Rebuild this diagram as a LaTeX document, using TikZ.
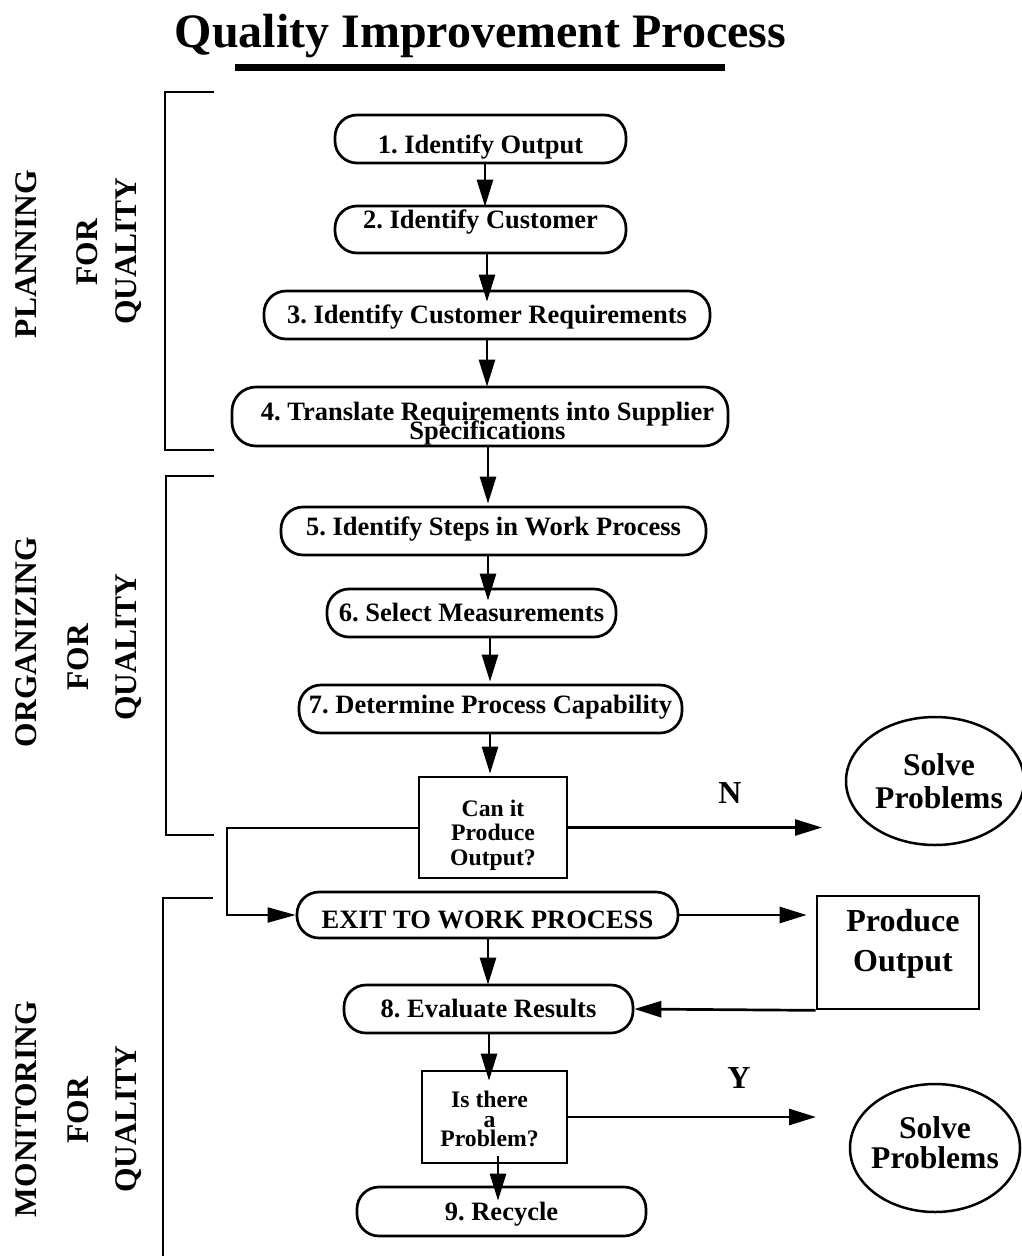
\documentclass[tikz,border=0pt]{standalone}
\usepackage{fontspec}
\setmainfont{Liberation Serif}
\usetikzlibrary{arrows.meta,shapes.geometric}
% let stacked caption lines sit closer than their glyphs allow
\newcommand\tightlines{\lineskiplimit=-50pt\relax}
\frenchspacing

\begin{document}
\begin{tikzpicture}[x=1pt,y=-1pt,
  stepbox/.style={draw, line width=2.7pt, rounded corners=22pt, inner sep=0pt,
    font=\bfseries\fontsize{26.5}{26.5}\selectfont, text height=17.5pt, text depth=0pt},
  blankstep/.style={draw, line width=2.7pt, rounded corners=24pt, inner sep=0pt},
  askbox/.style={draw, line width=2.7pt, inner sep=0pt},
  oval/.style={draw, ellipse, line width=2.5pt, inner sep=0pt},
  side/.style={rotate=90, inner sep=0pt, font=\bfseries\fontsize{31.5}{31.5}\selectfont,
    text height=21pt, text depth=0pt},
  yn/.style={inner sep=0pt, font=\bfseries\fontsize{32}{32}\selectfont, text height=21.5pt, text depth=0pt},
  arr/.style={line width=2.7pt, -{Triangle[length=27pt,width=16pt]}},
  looparr/.style={line width=2pt, -{Triangle[length=28pt,width=15pt]}},
  bracket/.style={line width=1.3pt},
  every label/.style={inner sep=0pt, align=center}
]
\useasboundingbox (0,0) rectangle (1021,1256);

% title
\node[anchor=base, inner sep=0pt, font=\bfseries\fontsize{48}{48}\selectfont] (title) at (480.5,47) {Quality Improvement Process};
\draw[line width=7pt] (235,67.5) -- (725,67.5);

% phase brackets
\draw[bracket] (214,92) -- (165,92) -- (165,450) -- (214,450);
\draw[bracket] (214,476) -- (166,476) -- (166,835) -- (214,835);
\draw[bracket] (213,898) -- (163,898) -- (163,1262);

% phase captions
\node[side] (plan) at (26,254) {PLANNING};
\node[side] (planfor) at (87,252) {FOR};
\node[side] (planq) at (126,251) {QUALITY};
\node[side] (org) at (26,642) {ORGANIZING};
\node[side] (orgfor) at (78,657) {FOR};
\node[side] (orgq) at (126,647) {QUALITY};
\node[side] (mon) at (26,1109) {MONITORING};
\node[side] (monfor) at (78,1110) {FOR};
\node[side] (monq) at (126,1119) {QUALITY};

% process steps
\node[stepbox, minimum width=291pt, minimum height=48pt] (n1) at (480.5,139) {\raisebox{-6pt}{1. Identify Output}};
\node[stepbox, minimum width=291pt, minimum height=47pt] (n2) at (480.5,229.5) {\raisebox{9.5pt}{2. Identify Customer}};
\node[stepbox, minimum width=446pt, minimum height=48pt] (n3) at (487,315) {3. Identify Customer Requirements};
\node[blankstep, minimum width=496pt, minimum height=59pt,
  label={[xshift=7.5pt, yshift=-7.5pt, font=\bfseries\fontsize{26.5}{19}\selectfont\tightlines]center:4. Translate Requirements into Supplier\\Specifications}]
  (n4) at (480,416.5) {};
\node[stepbox, minimum width=425pt, minimum height=48pt] (n5) at (493.5,531) {\raisebox{4pt}{5. Identify Steps in Work Process}};
\node[stepbox, minimum width=289pt, minimum height=48pt] (n6) at (471.5,613) {6. Select Measurements};
\node[stepbox, minimum width=383pt, minimum height=48pt] (n7) at (490.5,709) {\raisebox{4pt}{7. Determine Process Capability}};
\node[askbox, minimum width=148pt, minimum height=101pt,
  label={[yshift=-7.5pt, font=\bfseries\fontsize{23.7}{24.5}\selectfont]center:Can it\\Produce\\Output?}]
  (d1) at (493,827.5) {};
\node[oval, minimum width=178pt, minimum height=128pt,
  label={[xshift=4pt, font=\bfseries\fontsize{31.6}{33}\selectfont]center:Solve\\Problems}]
  (s1) at (935,781) {};
\node[stepbox, minimum width=381pt, minimum height=46pt] (exit) at (487.5,915) {\raisebox{-5pt}{EXIT TO WORK PROCESS}};
\node[askbox, minimum width=162pt, minimum height=113pt,
  label={[xshift=5pt, yshift=9pt, font=\bfseries\fontsize{32}{40}\selectfont]center:Produce\\Output}]
  (prod) at (898,952.5) {};
\node[stepbox, minimum width=289pt, minimum height=48pt] (n8) at (488.5,1009) {8. Evaluate Results};
\node[askbox, minimum width=145pt, minimum height=92pt,
  label={[xshift=-5pt, yshift=-2pt, font=\bfseries\fontsize{23.7}{19.5}\selectfont\tightlines]center:Is there\\a\\Problem?}]
  (d2) at (494.5,1117) {};
\node[oval, minimum width=170pt, minimum height=128pt,
  label={[yshift=5pt, font=\bfseries\fontsize{31.6}{30}\selectfont\tightlines]center:Solve\\Problems}]
  (s2) at (935,1148) {};
\node[stepbox, minimum width=289pt, minimum height=49pt] (n9) at (501.5,1211.5) {9. Recycle};

% branch letters
\node[yn] (nlab) at (730,793) {N};
\node[yn] (ylab) at (739,1078) {Y};

% free ends of the branch arrows
\coordinate (nend) at (822,827.5);
\coordinate (yend) at (816,1117);

% flow
\draw[arr, shorten >=-2pt] ([xshift=4.5pt]n1.south) -- ([xshift=4.5pt]n2.north);
\draw[arr, shorten >=-12pt] ([xshift=6.5pt]n2.south) -- (n3.north);
\draw[arr, shorten >=-1pt] (n3.south) -- ([xshift=7pt]n4.north);
\draw[arr, shorten >=2pt] ([xshift=8pt]n4.south) -- ([xshift=-5.5pt]n5.north);
\draw[arr, shorten >=-13pt] ([xshift=-5.5pt]n5.south) -- ([xshift=16.5pt]n6.north);
\draw[arr, shorten >=2pt] ([xshift=18.5pt]n6.south) -- ([xshift=-0.5pt]n7.north);
\draw[arr, shorten >=2pt] ([xshift=-0.5pt]n7.south) -- ([xshift=-3pt]d1.north);
\draw[arr] (d1.east) -- (nend);
\draw[looparr] (d1.west) -- ++(-191,0) |- (exit.west);
\draw[arr, shorten >=9pt] (exit.east) -- (exit.east -| prod.west);
\draw[arr, shorten >=-1pt] ([xshift=0.5pt]exit.south) -- ([xshift=-0.5pt]n8.north);
\draw[arr] (prod.south west) -- (n8.east);
\draw[arr, shorten >=-11pt] ([xshift=0.5pt]n8.south) -- ([xshift=-5.5pt]d2.north);
\draw[arr] (d2.east) -- (yend);
\draw[arr, shorten <=-8pt, shorten >=-15pt] ([xshift=3.5pt]d2.south) -- ([xshift=-3.5pt]n9.north);
\end{tikzpicture}
\end{document}
